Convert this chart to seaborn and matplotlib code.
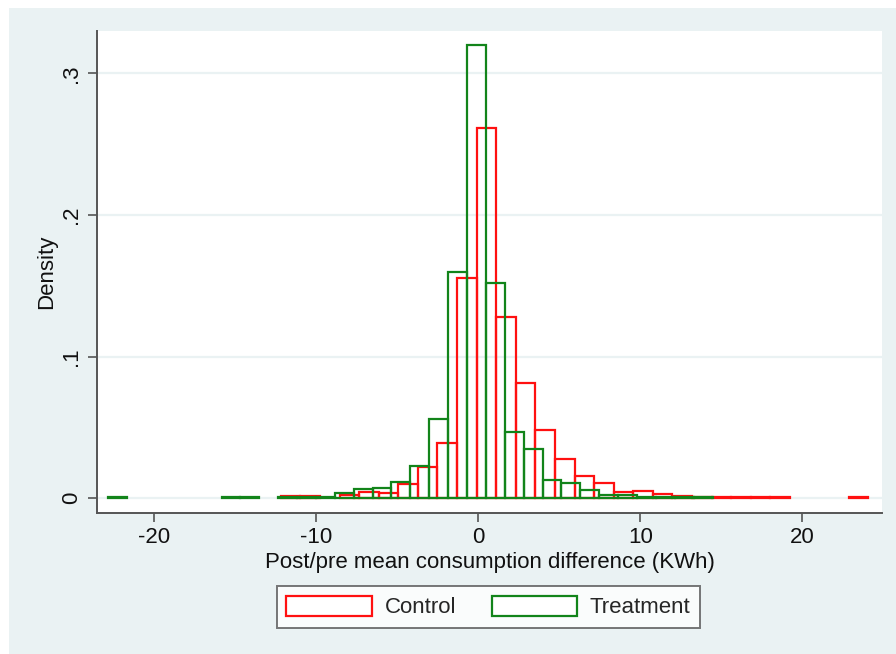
import numpy as np
import pandas as pd
import matplotlib
matplotlib.use("Agg")
import matplotlib.pyplot as plt
from matplotlib.patches import Patch, Rectangle
import seaborn as sns

# histogram bins (Stata style: each group has its own bins)
control_start = -12.195
control_width = 1.209
control_density = [0.0017, 0.0017, 0.0, 0.0025, 0.0047, 0.0040, 0.0102, 0.0221,
                   0.0391, 0.1558, 0.2614, 0.1280, 0.0811, 0.0479, 0.0276, 0.0157,
                   0.0108, 0.0041, 0.0050, 0.0028, 0.0014, 0.0009, 0.0009, 0.0009,
                   0.0009, 0.0009, 0.0, 0.0, 0.0, 0.0009]

treat_start = -22.85
treat_width = 1.166
treat_density = [0.0009, 0.0, 0.0, 0.0, 0.0, 0.0, 0.0009, 0.0009,
                 0.0, 0.0009, 0.0009, 0.0009, 0.0037, 0.0062, 0.0069, 0.0115,
                 0.0228, 0.0560, 0.1596, 0.3200, 0.1520, 0.0471, 0.0349, 0.0127,
                 0.0108, 0.0059, 0.0021, 0.0021, 0.0009, 0.0009, 0.0009, 0.0009]

groups = ["Control", "Treatment"]
colors = ["#ff1010", "#12841a"]
x_ticks = [-20, -10, 0, 10, 20]
y_ticks = [0, 0.1, 0.2, 0.3]
y_ticklabels = ["0", ".1", ".2", ".3"]

bg = "#eaf2f3"
fs = 16
sns.set_theme(style="white")
plt.rcParams["font.family"] = ["Liberation Sans", "DejaVu Sans"]

fig = plt.figure(figsize=(8.96, 6.54), dpi=100, facecolor=bg)
# white strips of the page around the graph
fig.patches.append(Rectangle((0, 1 - 7.5 / 654), 1, 7.5 / 654, transform=fig.transFigure,
                             facecolor="white", edgecolor="none", zorder=-1))
fig.patches.append(Rectangle((0, 0), 9 / 896, 1, transform=fig.transFigure,
                             facecolor="white", edgecolor="none", zorder=-1))

ax = fig.add_axes([97 / 896, 1 - 512.7 / 654, (882 - 97) / 896, (512.7 - 31) / 654])
ax.set_facecolor("white")

for (start, width, dens), col in zip([(control_start, control_width, control_density),
                                      (treat_start, treat_width, treat_density)], colors):
    edges = start + width * np.arange(len(dens) + 1)
    df = pd.DataFrame({"x": (edges[:-1] + edges[1:]) / 2, "w": dens})
    n_before = len(ax.patches)
    sns.histplot(data=df, x="x", weights="w", bins=list(edges), stat="count",
                 element="bars", fill=False, color=col, linewidth=1.6, ax=ax, zorder=3)
    # Stata draws nothing for empty bins
    for p in list(ax.patches)[n_before:]:
        if p.get_height() == 0:
            p.remove()

ax.set_xlim(-23.54, 24.92)
ax.set_ylim(-0.0102, 0.3299)
ax.set_xticks(x_ticks)
ax.set_xticklabels([str(t) for t in x_ticks])
ax.set_yticks(y_ticks)
ax.set_yticklabels(y_ticklabels, rotation=90, va="center")
ax.grid(axis="y", color=bg, linewidth=1.6, zorder=0)
ax.set_axisbelow(True)

for s in ["top", "right"]:
    ax.spines[s].set_visible(False)
for s in ["left", "bottom"]:
    ax.spines[s].set_color("#555555")
    ax.spines[s].set_linewidth(1.4)
ax.tick_params(axis="both", which="major", direction="out", length=6.5, width=1.2,
               color="#555555", labelsize=fs, labelcolor="#111111", pad=4,
               left=True, bottom=True)

ax.set_xlabel("Post/pre mean consumption difference (KWh)", fontsize=fs,
              color="#111111", labelpad=3)
ax.set_ylabel("Density", fontsize=fs, color="#111111", labelpad=3)

handles = [Patch(facecolor="white", edgecolor=c, linewidth=1.6) for c in colors]
leg = fig.legend(handles, groups, loc="center", bbox_to_anchor=(488.5 / 896, 1 - 607 / 654),
                 ncol=2, fontsize=fs, frameon=True, fancybox=False, edgecolor="#555555",
                 handlelength=3.85, handleheight=1.0, handletextpad=0.57, columnspacing=1.6,
                 borderpad=0.42)
leg.get_frame().set_linewidth(1.4)
leg.get_frame().set_facecolor("white")

fig.savefig("out.png", dpi=100, facecolor=bg)
